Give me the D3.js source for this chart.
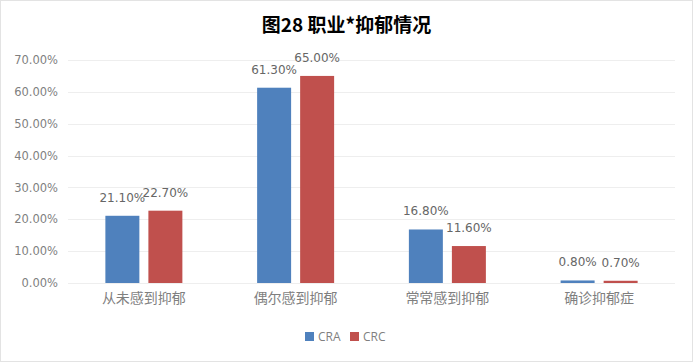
<!DOCTYPE html>
<html><head><meta charset="utf-8">
<script src="https://cdn.jsdelivr.net/npm/d3@7"></script>
<style>body{margin:0;background:#fff}svg{display:block}text{font-family:"Noto Sans CJK SC","Noto Sans",sans-serif}</style>
</head><body>
<script>
const categories = ["从未感到抑郁","偶尔感到抑郁","常常感到抑郁","确诊抑郁症"];
const seriesNames = ["CRA","CRC"];
const craValues = [21.1, 61.3, 16.8, 0.8];
const crcValues = [22.7, 65.0, 11.6, 0.7];
const yTicks = [0,10,20,30,40,50,60,70];
const colors = ["#4F81BD","#C0504D"];

const W=693,H=362;
const numFont="'DejaVu Sans','Open Sans',sans-serif";
const svg=d3.select("body").append("svg").attr("width",W).attr("height",H);
svg.append("rect").attr("x",0.5).attr("y",0.5).attr("width",W-1).attr("height",H-1).attr("fill","#fff").attr("stroke","#e3e3e3");

const m={left:68,right:675,top:60,bottom:283};
const x0=d3.scaleBand().domain(categories).range([m.left,m.right]).paddingInner(0).paddingOuter(0);
const x1=d3.scaleBand().domain(seriesNames).range([0,77]).paddingInner(0.21);
const y=d3.scaleLinear().domain([0,70]).range([m.bottom,m.top]);

// grid
svg.append("g").selectAll("line").data(yTicks).join("line")
 .attr("x1",m.left).attr("x2",m.right).attr("y1",d=>Math.round(y(d))+0.5).attr("y2",d=>Math.round(y(d))+0.5)
 .attr("stroke","#eeeeee");

// y labels
const yAxis=d3.axisLeft(y).tickValues(yTicks).tickFormat(d=>d.toFixed(2)+"%").tickSize(0).tickPadding(10);
const ya=svg.append("g").attr("transform",`translate(${m.left},0)`).call(yAxis);
ya.select(".domain").remove();
ya.selectAll("text").attr("fill","#7f7f7f").style("font-size","11.5px").style("font-family",numFont);

const data=categories.map((c,i)=>({cat:c,vals:[{s:"CRA",v:craValues[i]},{s:"CRC",v:crcValues[i]}]}));
const groups=svg.append("g").selectAll("g").data(data).join("g")
 .attr("transform",d=>`translate(${x0(d.cat)+x0.bandwidth()/2-38.5},0)`);
groups.selectAll("rect").data(d=>d.vals).join("rect")
 .attr("x",d=>x1(d.s)).attr("width",x1.bandwidth())
 .attr("y",d=>y(d.v)).attr("height",d=>y(0)-y(d.v))
 .attr("fill",(d,i)=>colors[i]);
groups.selectAll("text").data(d=>d.vals).join("text")
 .attr("x",d=>x1(d.s)+x1.bandwidth()/2).attr("y",d=>y(d.v)-14)
 .attr("text-anchor","middle").attr("fill","#666666")
 .style("font-size","12px").style("font-family",numFont)
 .text(d=>d.v.toFixed(2)+"%");

// x labels
const xAxis=d3.axisBottom(x0).tickSize(0).tickPadding(10);
const xa=svg.append("g").attr("transform",`translate(0,${m.bottom})`).call(xAxis);
xa.select(".domain").remove();
xa.selectAll("text").attr("fill","#7f7f7f").style("font-size","14px").style("font-family","'Noto Sans CJK SC',sans-serif");

// title
svg.append("text").attr("x",W/2).attr("y",32).attr("text-anchor","middle")
 .attr("fill","#000").style("font-size","19px").style("font-weight","bold").text("图28 职业*抑郁情况");

// legend
const lg=svg.append("g");
const items=[{n:"CRA",x:305},{n:"CRC",x:350}];
items.forEach((it,i)=>{
 lg.append("rect").attr("x",it.x).attr("y",332).attr("width",9).attr("height",9).attr("fill",colors[i]);
 lg.append("text").attr("x",it.x+13).attr("y",341).attr("fill","#7f7f7f").style("font-size","12px")
  .style("font-family","'Open Sans','Noto Sans',sans-serif").text(it.n);
});
</script>
</body></html>
